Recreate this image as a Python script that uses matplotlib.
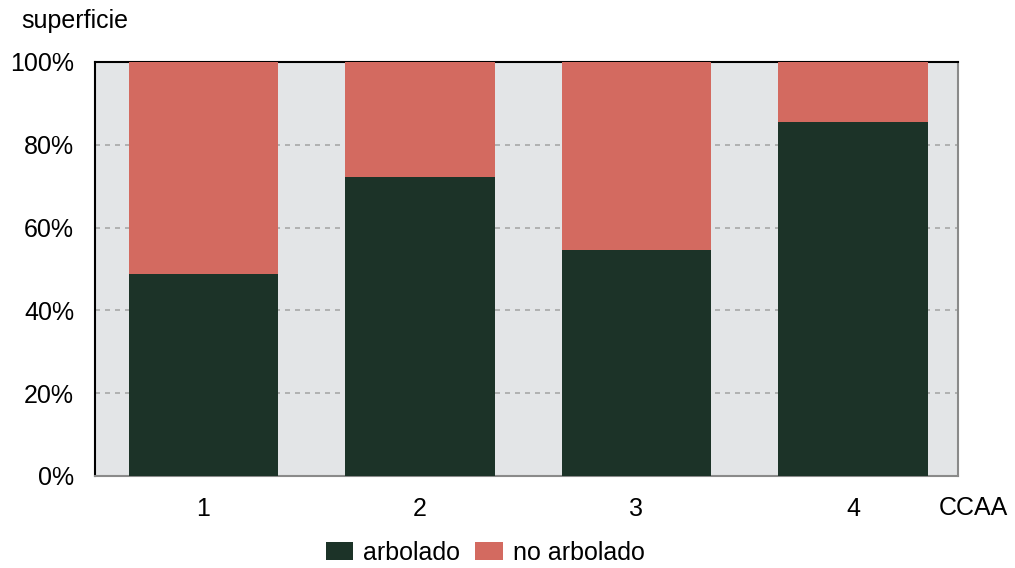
import matplotlib
matplotlib.use("Agg")
import matplotlib.pyplot as plt
import numpy as np

plt.rcParams['font.family'] = ['Liberation Sans', 'DejaVu Sans']

# Share of surface per autonomous community (percent)
regions = ["1", "2", "3", "4"]
arbolado = [48.8, 72.2, 54.6, 85.5]
no_arbolado = [100 - v for v in arbolado]
y_ticks = [0, 20, 40, 60, 80, 100]
y_labels = ["0%", "20%", "40%", "60%", "80%", "100%"]

green = "#1c3328"
salmon = "#d36a60"
fs = 18

fig = plt.figure(figsize=(10.15, 5.68), dpi=100)
ax = fig.add_axes([0.0936, 0.162, 0.8502, 0.729])
ax.set_facecolor("#e3e5e7")

x = np.arange(1, len(regions) + 1)
ax.bar(x, arbolado, width=0.69, color=green, label="arbolado", zorder=3)
ax.bar(x, no_arbolado, width=0.69, bottom=arbolado, color=salmon,
       label="no arbolado", zorder=3)

ax.set_xlim(0.5, 4.485)
ax.set_ylim(0, 100)
ax.set_yticks(y_ticks)
ax.set_yticklabels(y_labels, fontsize=fs)
ax.set_xticks(x)
ax.set_xticklabels(regions, fontsize=fs)
ax.tick_params(axis="both", length=0)
ax.tick_params(axis="y", pad=15)
ax.tick_params(axis="x", pad=15)

ax.yaxis.grid(True, linestyle=(0, (3, 3)), color="#a8a8a8", linewidth=1.2, zorder=1)

ax.spines["left"].set_color("black")
ax.spines["top"].set_color("black")
ax.spines["right"].set_color("#8a8a8a")
ax.spines["bottom"].set_color("#8a8a8a")
for s in ax.spines.values():
    s.set_linewidth(1.5)

fig.text(0.021, 0.963, "superficie", fontsize=fs, va="center", ha="left")
fig.text(0.925, 0.106, "CCAA", fontsize=fs, va="center", ha="left")

fig.legend(loc="center", bbox_to_anchor=(0.478, 0.027), ncol=2,
           frameon=False, fontsize=fs, handlelength=1.1, handleheight=0.75,
           handletextpad=0.4, columnspacing=0.6, borderpad=0.1)

fig.savefig("out.png", dpi=100, facecolor="white")
